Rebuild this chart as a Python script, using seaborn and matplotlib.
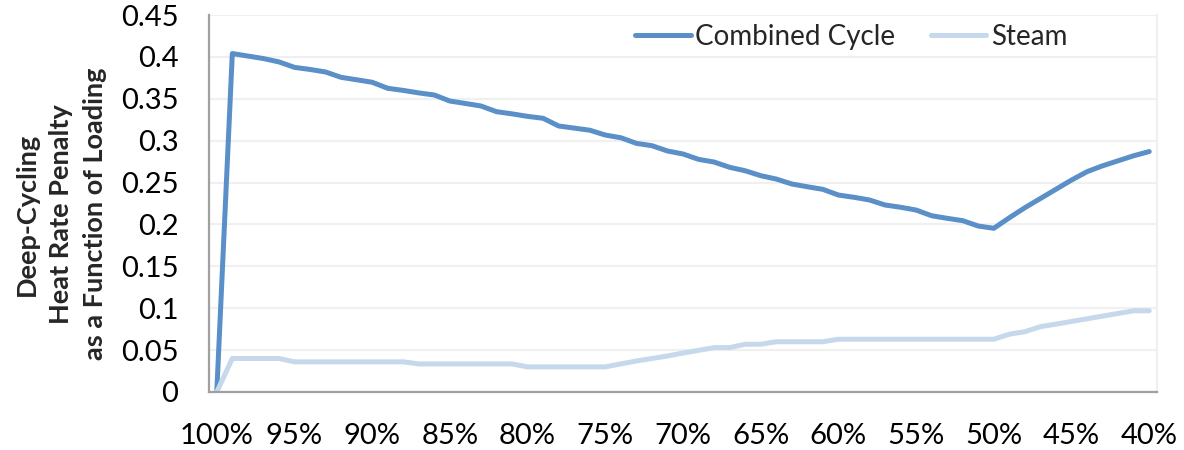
import matplotlib
matplotlib.use("Agg")
import matplotlib.pyplot as plt
import numpy as np
import pandas as pd
import seaborn as sns

# Load levels, 100% down to 40% in 1% steps
loading = list(range(100, 39, -1))

combined_cycle = [
    0.000, 0.404, 0.401, 0.398, 0.394, 0.3875, 0.385, 0.382, 0.3756, 0.3727,
    0.3697, 0.3625, 0.360, 0.357, 0.3545, 0.3473, 0.3444, 0.3414, 0.3346, 0.332,
    0.329, 0.3267, 0.3175, 0.315, 0.3125, 0.3067, 0.3035, 0.2968, 0.294, 0.2877,
    0.2841, 0.2777, 0.2745, 0.2682, 0.2641, 0.2582, 0.2542, 0.2483, 0.245, 0.2419,
    0.2351, 0.2324, 0.2292, 0.2232, 0.2205, 0.2172, 0.2104, 0.2073, 0.2045, 0.1981,
    0.1954, 0.208, 0.220, 0.231, 0.242, 0.253, 0.263, 0.270, 0.276, 0.282,
    0.287,
]

steam = [
    0.000, 0.040, 0.040, 0.040, 0.040, 0.036, 0.036, 0.036, 0.036, 0.036,
    0.036, 0.036, 0.036, 0.0335, 0.0335, 0.0335, 0.0335, 0.0335, 0.0335, 0.0335,
    0.030, 0.030, 0.030, 0.030, 0.030, 0.030, 0.0335, 0.037, 0.040, 0.043,
    0.0465, 0.0497, 0.053, 0.053, 0.057, 0.057, 0.060, 0.060, 0.060, 0.060,
    0.063, 0.063, 0.063, 0.063, 0.063, 0.063, 0.063, 0.063, 0.063, 0.063,
    0.063, 0.069, 0.072, 0.078, 0.081, 0.0842, 0.0874, 0.0906, 0.0938, 0.097,
    0.097,
]

series_names = ["Combined Cycle", "Steam"]
series_colors = ["#5A8FC8", "#C5D8EC"]

y_ticks = [0, 0.05, 0.1, 0.15, 0.2, 0.25, 0.3, 0.35, 0.4, 0.45]
y_tick_labels = ["0", "0.05", "0.1", "0.15", "0.2", "0.25", "0.3", "0.35", "0.4", "0.45"]
x_ticks = list(range(100, 39, -5))
x_tick_labels = [f"{v}%" for v in x_ticks]

df = pd.concat([
    pd.DataFrame({"Loading": loading, "Penalty": combined_cycle, "Series": series_names[0]}),
    pd.DataFrame({"Loading": loading, "Penalty": steam, "Series": series_names[1]}),
])

sns.set_theme(style="white")
plt.rcParams["font.family"] = ["Lato", "DejaVu Sans"]

fig = plt.figure(figsize=(11.84, 4.5), dpi=100)
ax = fig.add_axes([209 / 1184, 58 / 450, (1157 - 209) / 1184, (392 - 15) / 450])

sns.lineplot(
    data=df, x="Loading", y="Penalty", hue="Series",
    hue_order=series_names, palette=series_colors,
    linewidth=3.6, ax=ax, legend=True,
)
for line in ax.get_lines():
    line.set_solid_capstyle("round")
    line.set_solid_joinstyle("round")

ax.set_xlim(100.5, 39.5)
ax.set_ylim(0, 0.45)
ax.set_yticks(y_ticks)
ax.set_yticklabels(y_tick_labels)
ax.set_xticks(x_ticks)
ax.set_xticklabels(x_tick_labels)
ax.tick_params(axis="both", length=0, labelsize=21, colors="black")
ax.tick_params(axis="y", pad=22)
ax.tick_params(axis="x", pad=22)

ax.grid(axis="y", color="#F0F0F0", linewidth=1.6)
ax.set_axisbelow(True)
ax.spines["top"].set_visible(False)
ax.spines["right"].set_color("#F0F0F0")
ax.spines["right"].set_linewidth(1.6)
for side in ("left", "bottom"):
    ax.spines[side].set_color("#A0A0A0")
    ax.spines[side].set_linewidth(1.6)

ax.set_xlabel("")
ax.set_ylabel("")
fig.text(
    61 / 1184, 1 - 214 / 450,
    "Deep-Cycling\nHeat Rate Penalty\nas a Function of Loading",
    rotation=90, ha="center", va="center", multialignment="center",
    fontsize=19.5, fontweight="bold", linespacing=1.5,
)

handles, labels = ax.get_legend_handles_labels()
ax.legend(
    handles, labels, loc="center", bbox_to_anchor=(851 / 1184, 1 - 37 / 450),
    bbox_transform=fig.transFigure, ncol=2, frameon=False, fontsize=20,
    handlelength=2.0, handletextpad=0.15, columnspacing=1.3, borderpad=0,
)

fig.savefig("out.png", dpi=100)
